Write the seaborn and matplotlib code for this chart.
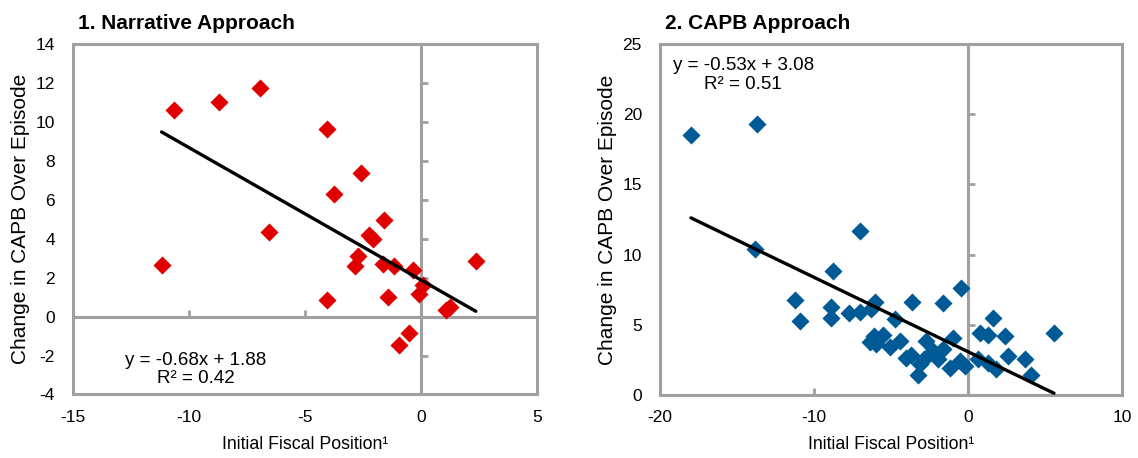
import numpy as np
import pandas as pd
import matplotlib
matplotlib.use("Agg")
import matplotlib.pyplot as plt
import seaborn as sns

sns.set_theme(style="white")
plt.rcParams["font.family"] = ["Liberation Sans", "DejaVu Sans"]
plt.rcParams["axes.unicode_minus"] = False
plt.rcParams["text.color"] = "black"
plt.rcParams["axes.labelcolor"] = "black"
plt.rcParams["xtick.color"] = "black"
plt.rcParams["ytick.color"] = "black"

# ---- Panel 1: Narrative approach ----
narr_x = [-11.18, -10.65, -8.71, -6.95, -6.55, -4.07, -4.07, -2.59, -3.74, -1.58,
          -2.23, -2.08, -2.71, -2.85, -1.63, -1.15, -0.36, -1.41, 0.07, -0.10,
          1.08, 1.25, 2.36, -0.50, -0.94]
narr_y = [2.65, 10.62, 11.0, 11.75, 4.33, 9.65, 0.86, 7.37, 6.3, 4.95,
          4.2, 3.98, 3.1, 2.62, 2.68, 2.59, 2.4, 1.0, 1.6, 1.17,
          0.35, 0.48, 2.84, -0.83, -1.44]
narr_slope, narr_intercept, narr_r2 = -0.68, 1.88, 0.42

# ---- Panel 2: CAPB approach ----
capb_x = [-17.99, -13.70, -13.83, -7.01, -8.79, -11.23, -10.91, -8.90, -8.90, -7.71,
          -7.01, -6.28, -6.02, -3.64, -1.64, -0.45, -4.76, -6.36, -5.97, -6.10,
          -5.54, -5.06, -4.42, -4.05, -3.72, -3.27, -3.12, -2.86, -2.73, -2.25,
          -1.93, -1.60, -1.17, -1.00, -0.52, -0.19, 0.67, 0.78, 1.28, 1.60,
          1.32, 1.82, 2.40, 2.62, 3.72, 4.09, 5.58]
capb_y = [18.5, 19.3, 10.4, 11.7, 8.85, 6.8, 5.3, 6.3, 5.5, 5.85,
          5.9, 6.1, 6.65, 6.65, 6.55, 7.6, 5.4, 3.75, 3.6, 4.2,
          4.25, 3.45, 3.85, 2.65, 2.85, 1.45, 2.2, 2.55, 3.85, 3.15,
          2.55, 3.25, 1.95, 4.05, 2.4, 2.05, 2.55, 4.4, 4.25, 5.5,
          2.3, 1.85, 4.2, 2.8, 2.55, 1.4, 4.45]
capb_slope, capb_intercept, capb_r2 = -0.53, 3.08, 0.51

panels = [
    dict(title="1. Narrative Approach", x=narr_x, y=narr_y, color="#E00000",
         slope=narr_slope, intercept=narr_intercept, r2=narr_r2,
         xlim=(-15, 5), xticks=[-15, -10, -5, 0, 5],
         ylim=(-4, 14), yticks=[-4, -2, 0, 2, 4, 6, 8, 10, 12, 14],
         eq_pos=(-9.7, -2.7), rect=[0.0641, 0.1387, 0.4078, 0.7652]),
    dict(title="2. CAPB Approach", x=capb_x, y=capb_y, color="#005A96",
         slope=capb_slope, intercept=capb_intercept, r2=capb_r2,
         xlim=(-20, 10), xticks=[-20, -10, 0, 10],
         ylim=(0, 25), yticks=[0, 5, 10, 15, 20, 25],
         eq_pos=(-14.6, 22.8), rect=[0.580, 0.1376, 0.406, 0.7663]),
]

GRAY = "#A0A0A0"
fig = plt.figure(figsize=(11.38, 4.58), dpi=100)

for p in panels:
    ax = fig.add_axes(p["rect"])
    df = pd.DataFrame({"x": p["x"], "y": p["y"]})
    # zero lines (Excel-style axes crossing at zero)
    ax.axvline(0, color=GRAY, lw=2.2, zorder=1)
    ax.axhline(0, color=GRAY, lw=2.2, zorder=1)
    yt = np.array(p["yticks"], dtype=float)
    xt = np.array(p["xticks"], dtype=float)
    ax.plot(np.zeros_like(yt), yt, ls="none", marker=1, ms=5, mew=2,
            color=GRAY, zorder=1, clip_on=False)
    ax.plot(xt, np.zeros_like(xt), ls="none", marker=2, ms=5, mew=2,
            color=GRAY, zorder=1, clip_on=False)

    sns.scatterplot(data=df, x="x", y="y", ax=ax, marker="D", s=85,
                    color=p["color"], linewidth=0, zorder=3)

    xs = np.array([min(p["x"]), max(p["x"])])
    ax.plot(xs, p["slope"] * xs + p["intercept"], color="black", lw=2.4, zorder=4)

    sign = "+" if p["intercept"] >= 0 else "-"
    eq = f"y = {p['slope']:.2f}x {sign} {abs(p['intercept']):.2f}\nR² = {p['r2']:.2f}"
    ax.text(p["eq_pos"][0], p["eq_pos"][1], eq, ha="center", va="center",
            fontsize=13.5, linespacing=1.1, zorder=5)

    ax.set_xlim(*p["xlim"])
    ax.set_ylim(*p["ylim"])
    ax.set_xticks(p["xticks"])
    ax.set_yticks(p["yticks"])
    ax.tick_params(axis="both", length=0, labelsize=12.5, colors="black")
    ax.tick_params(axis="y", pad=13)
    ax.tick_params(axis="x", pad=11)
    for s in ax.spines.values():
        s.set_color(GRAY)
        s.set_linewidth(2.2)
    ax.set_xlabel("Initial Fiscal Position¹", fontsize=12.8, labelpad=8)
    ax.set_ylabel("Change in CAPB Over Episode", fontsize=15, labelpad=4)
    ax.set_title(p["title"], loc="left", fontsize=15, fontweight="bold",
                 pad=11, x=0.01)

fig.savefig("out.png", dpi=100)
